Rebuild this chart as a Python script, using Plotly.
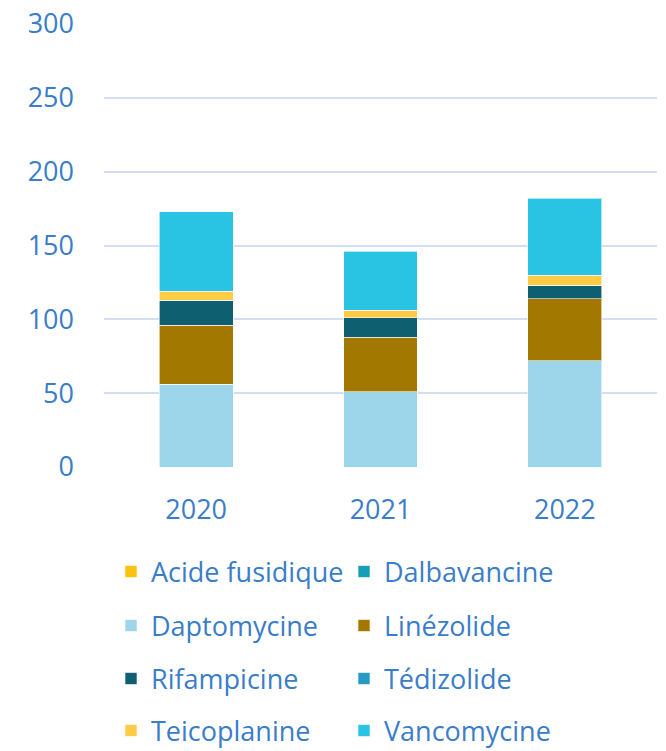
import plotly.graph_objects as go

years = ["2020", "2021", "2022"]

# Consumption per molecule and year (stacked)
acide_fusidique = [0, 0, 0]
dalbavancine = [0, 0, 0]
daptomycine = [56, 51, 72]
linezolide = [40, 37, 42]
rifampicine = [17, 13, 9]
tedizolide = [0, 0, 0]
teicoplanine = [6, 5, 7]
vancomycine = [54, 40, 52]

series = [
    ("Acide fusidique", acide_fusidique, "#FDC10F", "legend"),
    ("Dalbavancine", dalbavancine, "#169FB6", "legend"),
    ("Daptomycine", daptomycine, "#9DD6EB", "legend2"),
    ("Linézolide", linezolide, "#A37800", "legend2"),
    ("Rifampicine", rifampicine, "#0E5F70", "legend3"),
    ("Tédizolide", tedizolide, "#2699C4", "legend3"),
    ("Teicoplanine", teicoplanine, "#FFCB45", "legend4"),
    ("Vancomycine", vancomycine, "#29C4E4", "legend4"),
]

TXT = "#3A7DC9"
FONT = "Open Sans"
FS = 27
W, H = 666, 751

fig = go.Figure()
for name, vals, color, lg in series:
    fig.add_trace(go.Bar(
        x=years, y=vals, name=name, legend=lg,
        marker=dict(color=color, line=dict(color="rgba(255,255,255,0.6)", width=1)),
    ))

# two-entry legend rows, placed in container coordinates
legend_rows = [("legend", 572), ("legend2", 626), ("legend3", 679), ("legend4", 731)]
plot_top, plot_bottom = 24, 467
legends = {}
for key, ypix in legend_rows:
    legends[key] = dict(
        orientation="h",
        xref="container", x=111 / W, xanchor="left",
        yref="container", y=1 - ypix / H, yanchor="middle",
        entrywidth=188, entrywidthmode="pixels",
        font=dict(family=FONT, size=FS, color=TXT),
        bgcolor="rgba(0,0,0,0)",
        traceorder="normal",
    )

fig.update_layout(
    barmode="stack",
    bargap=0.6,
    width=W, height=H,
    margin=dict(l=104, r=9, t=plot_top, b=H - plot_bottom, autoexpand=False),
    paper_bgcolor="white", plot_bgcolor="white",
    font=dict(family=FONT, size=FS, color=TXT),
    showlegend=True,
    **legends,
)
fig.update_yaxes(
    range=[0, 300], tickvals=[0, 50, 100, 150, 200, 250, 300],
    showgrid=True, gridcolor="#D3DEF1", gridwidth=2,
    zeroline=False, showline=False, ticks="",
    ticklabelstandoff=29,
    tickfont=dict(family=FONT, size=FS, color=TXT),
)
fig.update_xaxes(
    showline=False, ticks="", ticklabelstandoff=24,
    tickfont=dict(family=FONT, size=FS, color=TXT),
)

fig.write_html("out.html")
